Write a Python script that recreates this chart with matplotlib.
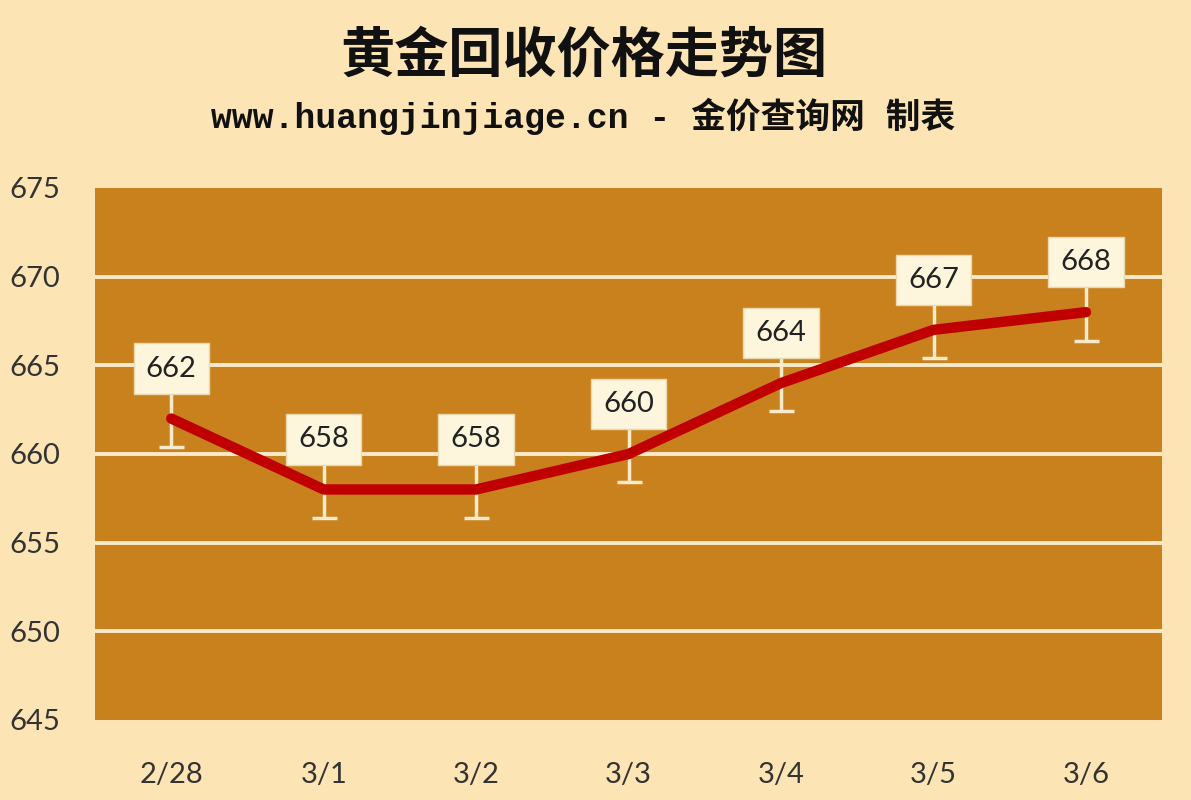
import matplotlib
matplotlib.use("Agg")
import matplotlib.pyplot as plt

# ── Data ──
dates = ["2/28", "3/1", "3/2", "3/3", "3/4", "3/5", "3/6"]
prices = [662, 658, 658, 660, 664, 667, 668]
err_low = [1.6, 1.6, 1.6, 1.6, 1.6, 1.6, 1.6]
err_high = [1.6, 1.6, 1.6, 1.6, 1.6, 1.6, 1.6]
y_ticks = [645, 650, 655, 660, 665, 670, 675]

# ── Colours ──
BG = "#FCE4B4"
PLOT_BG = "#C9811D"
GRID = "#F9EACB"
LINE = "#C00000"
BOX = "#FDF5DC"

plt.rcParams["font.family"] = ["Lato", "DejaVu Sans"]

fig = plt.figure(figsize=(11.91, 8), dpi=100, facecolor=BG)
ax = fig.add_axes([0.0798, 0.10, 0.896, 0.665])
ax.set_facecolor(PLOT_BG)

x = list(range(len(dates)))

for v in y_ticks[1:-1]:
    ax.axhline(v, color=GRID, linewidth=2.8, zorder=1)

ax.errorbar(x, prices, yerr=[err_low, err_high], fmt="none", ecolor=GRID,
            elinewidth=2.5, capsize=9, capthick=2.5, zorder=2)
ax.plot(x, prices, color=LINE, linewidth=7.5, solid_capstyle="round",
        solid_joinstyle="round", zorder=3)

for xi, v in zip(x, prices):
    ax.annotate(str(v), (xi, v), xytext=(0, 36), textcoords="offset points",
                ha="center", va="center", fontsize=21, color="#222222",
                bbox=dict(boxstyle="square,pad=0.42", facecolor=BOX,
                          edgecolor="#E8D8B0", linewidth=1),
                zorder=4)

ax.set_xlim(-0.5, len(dates) - 0.5)
ax.set_ylim(y_ticks[0], y_ticks[-1])
ax.set_xticks(x)
ax.set_xticklabels(dates)
ax.set_yticks(y_ticks)
ax.tick_params(axis="both", length=0, labelsize=21, labelcolor="#333333")
ax.tick_params(axis="x", pad=30)
ax.tick_params(axis="y", pad=25)
for s in ax.spines.values():
    s.set_visible(False)

fig.text(0.49, 0.93, "黄金回收价格走势图", ha="center", va="center",
         fontsize=39, fontweight="bold", color="#111111",
         family=["Noto Sans CJK SC", "DejaVu Sans"])
fig.text(0.49, 0.855, "www.huangjinjiage.cn - 金价查询网 制表", ha="center",
         va="center", fontsize=25, fontweight="bold", color="#111111",
         family=["Liberation Mono", "Noto Sans CJK SC"])

fig.savefig("out.png", dpi=100, facecolor=BG)
